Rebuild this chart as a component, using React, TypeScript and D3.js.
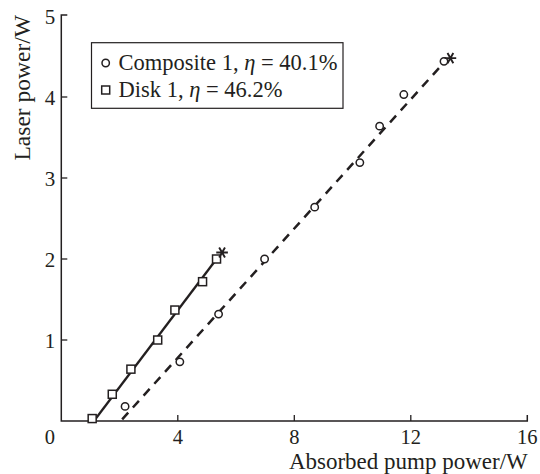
import { useEffect, useRef } from 'react';
import * as d3 from 'd3';

// Composite 1 (circles, dashed fit)
const compositeX = [2.19, 4.07, 5.40, 6.98, 8.70, 10.25, 10.93, 11.76, 13.14];
const compositeY = [0.18, 0.73, 1.32, 2.00, 2.64, 3.19, 3.64, 4.03, 4.44];
const compositeFitX = [2.09, 13.2];
const compositeFitY = [0.02, 4.45];
const compositeStar = [13.36, 4.48];

// Disk 1 (squares, solid fit)
const diskX = [1.06, 1.75, 2.39, 3.31, 3.90, 4.85, 5.33];
const diskY = [0.03, 0.33, 0.64, 1.00, 1.37, 1.72, 2.0];
const diskFitX = [1.12, 5.33];
const diskFitY = [0.0, 2.0];
const diskStar = [5.52, 2.08];

const xTicks = [0, 4, 8, 12, 16];
const yTicks = [1, 2, 3, 4, 5];
const legendLabels = ['Composite 1, ', 'Disk 1, '];
const legendValues = ['= 40.1%', '= 46.2%'];

const W = 540;
const H = 474;
const margin = { top: 16, right: 12.7, bottom: 53, left: 61.3 };
const ink = '#231f20';
const font = '"Liberation Serif", "DejaVu Serif", serif';

export default function App() {
  const svgRef = useRef<SVGSVGElement>(null);

  useEffect(() => {
    if (!svgRef.current) return;
    const svg = d3.select(svgRef.current);
    svg.selectAll('*').remove();

    const x = d3.scaleLinear().domain([0, 16]).range([margin.left, W - margin.right]);
    const y = d3.scaleLinear().domain([0, 5]).range([H - margin.bottom, margin.top]);

    const g = svg.append('g');

    // frame: left and bottom axes, with short right end
    g.append('path')
      .attr('d', `M${x(0) + 6},${y(5) - 1}H${x(0)}V${y(0)}H${x(16)}V${y(0) - 6}`)
      .attr('fill', 'none')
      .attr('stroke', ink)
      .attr('stroke-width', 1.5);

    // x ticks (inward)
    xTicks.filter(t => t > 0 && t < 16).forEach(t => {
      g.append('line')
        .attr('x1', x(t)).attr('x2', x(t))
        .attr('y1', y(0)).attr('y2', y(0) - 6)
        .attr('stroke', ink).attr('stroke-width', 1.3);
    });
    xTicks.forEach(t => {
      g.append('text')
        .attr('x', t === 0 ? x(t) - 11.5 : x(t))
        .attr('y', y(0) + 23)
        .attr('text-anchor', 'middle')
        .attr('font-family', font)
        .attr('font-size', 20.5)
        .attr('fill', ink)
        .text(t);
    });

    // y ticks (inward)
    yTicks.filter(t => t < 5).forEach(t => {
      g.append('line')
        .attr('x1', x(0)).attr('x2', x(0) + 6)
        .attr('y1', y(t)).attr('y2', y(t))
        .attr('stroke', ink).attr('stroke-width', 1.3);
    });
    yTicks.forEach(t => {
      g.append('text')
        .attr('x', x(0) - 6)
        .attr('y', y(t) + 7.5)
        .attr('text-anchor', 'end')
        .attr('font-family', font)
        .attr('font-size', 21)
        .attr('fill', ink)
        .text(t);
    });

    // axis titles
    g.append('text')
      .attr('x', W - margin.right + 0.5)
      .attr('y', 469)
      .attr('text-anchor', 'end')
      .attr('font-family', font)
      .attr('font-size', 23)
      .attr('fill', ink)
      .text('Absorbed pump power/W');

    g.append('text')
      .attr('transform', `translate(30,15) rotate(-90)`)
      .attr('text-anchor', 'end')
      .attr('font-family', font)
      .attr('font-size', 23.5)
      .attr('fill', ink)
      .text('Laser power/W');

    const line = d3.line<[number, number]>().x(d => x(d[0])).y(d => y(d[1]));

    // fit lines
    g.append('path')
      .attr('d', line(compositeFitX.map((v, i) => [v, compositeFitY[i]]) as [number, number][]))
      .attr('fill', 'none')
      .attr('stroke', ink)
      .attr('stroke-width', 2.5)
      .attr('stroke-dasharray', '9,7');

    g.append('path')
      .attr('d', line(diskFitX.map((v, i) => [v, diskFitY[i]]) as [number, number][]))
      .attr('fill', 'none')
      .attr('stroke', ink)
      .attr('stroke-width', 2.3);

    // markers
    const circles = compositeX.map((v, i) => [v, compositeY[i]]);
    g.selectAll('.circ')
      .data(circles)
      .enter()
      .append('circle')
      .attr('cx', d => x(d[0]))
      .attr('cy', d => y(d[1]))
      .attr('r', 3.7)
      .attr('fill', 'white')
      .attr('stroke', ink)
      .attr('stroke-width', 1.5);

    const squares = diskX.map((v, i) => [v, diskY[i]]);
    g.selectAll('.sq')
      .data(squares)
      .enter()
      .append('rect')
      .attr('x', d => x(d[0]) - 4)
      .attr('y', d => y(d[1]) - 4)
      .attr('width', 8)
      .attr('height', 8)
      .attr('fill', 'white')
      .attr('stroke', ink)
      .attr('stroke-width', 1.5);

    // asterisks
    const star = d3.symbol().type(d3.symbolAsterisk).size(95);
    [compositeStar, diskStar].forEach(s => {
      g.append('path')
        .attr('d', star()!)
        .attr('transform', `translate(${x(s[0])},${y(s[1])}) rotate(90)`)
        .attr('fill', 'none')
        .attr('stroke', ink)
        .attr('stroke-width', 1.9);
    });

    // legend
    const lg = g.append('g');
    lg.append('rect')
      .attr('x', 91.5).attr('y', 42.7)
      .attr('width', 251.5).attr('height', 65.6)
      .attr('fill', 'white')
      .attr('stroke', ink)
      .attr('stroke-width', 1.2);

    lg.append('circle')
      .attr('cx', 105.7).attr('cy', 63)
      .attr('r', 3.7)
      .attr('fill', 'white').attr('stroke', ink).attr('stroke-width', 1.5);
    lg.append('rect')
      .attr('x', 101.7).attr('y', 86)
      .attr('width', 8).attr('height', 8)
      .attr('fill', 'white').attr('stroke', ink).attr('stroke-width', 1.5);

    legendLabels.forEach((lab, i) => {
      const t = lg.append('text')
        .attr('x', 118.5)
        .attr('y', 69.5 + i * 27)
        .attr('font-family', font)
        .attr('font-size', 22.5)
        .attr('fill', ink);
      t.append('tspan').text(lab);
      t.append('tspan').attr('font-style', 'italic').text('η');
      t.append('tspan').text(' ' + legendValues[i]);
    });
  }, []);

  return (
    <svg
      ref={svgRef}
      width={W}
      height={H}
      style={{ position: 'absolute', left: 0, top: 0, background: 'white' }}
    />
  );
}
